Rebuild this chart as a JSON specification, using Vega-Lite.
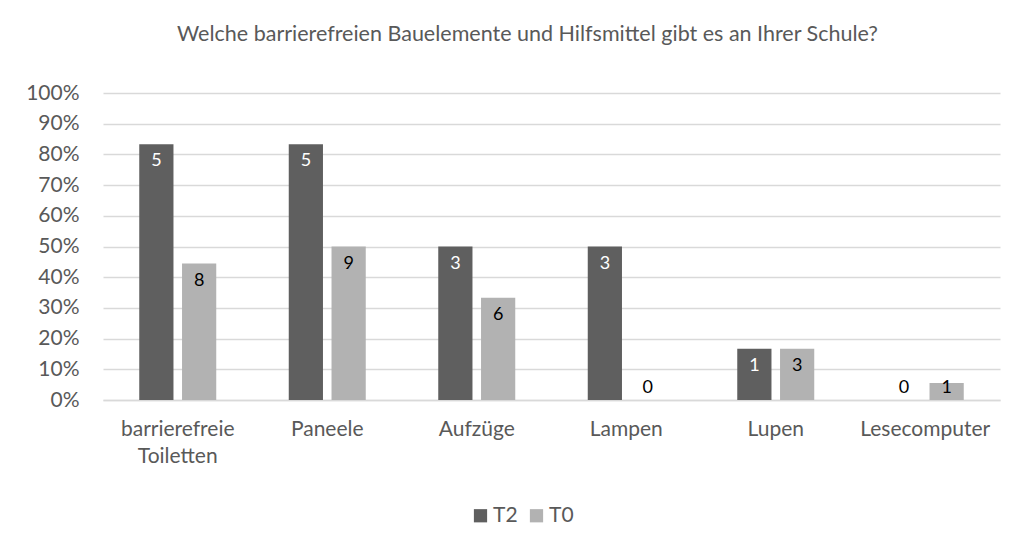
{
  "$schema": "https://vega.github.io/schema/vega-lite/v6.json",
  "autosize": {"type": "none"},
  "width": 897,
  "height": 307,
  "padding": {"left": 103, "top": 93, "right": 19, "bottom": 139},
  "background": "white",
  "config": {"view": {"stroke": null}},
  "title": {
    "text": "Welche barrierefreien Bauelemente und Hilfsmittel gibt es an Ihrer Schule?",
    "anchor": "middle",
    "frame": "group",
    "dx": -24,
    "offset": 37,
    "font": "Lato",
    "fontSize": 21.5,
    "fontWeight": "normal",
    "color": "#595959"
  },
  "data": {
    "values": [
      {"category": "barrierefreie Toiletten", "series": "T2", "share": 0.8333, "n": 5},
      {"category": "barrierefreie Toiletten", "series": "T0", "share": 0.4444, "n": 8},
      {"category": "Paneele", "series": "T2", "share": 0.8333, "n": 5},
      {"category": "Paneele", "series": "T0", "share": 0.5, "n": 9},
      {"category": "Aufzüge", "series": "T2", "share": 0.5, "n": 3},
      {"category": "Aufzüge", "series": "T0", "share": 0.3333, "n": 6},
      {"category": "Lampen", "series": "T2", "share": 0.5, "n": 3},
      {"category": "Lampen", "series": "T0", "share": 0, "n": 0},
      {"category": "Lupen", "series": "T2", "share": 0.1667, "n": 1},
      {"category": "Lupen", "series": "T0", "share": 0.1667, "n": 3},
      {"category": "Lesecomputer", "series": "T2", "share": 0, "n": 0},
      {"category": "Lesecomputer", "series": "T0", "share": 0.0556, "n": 1}
    ]
  },
  "encoding": {
    "x": {
      "field": "category",
      "type": "nominal",
      "sort": null,
      "scale": {"paddingInner": 0.485, "paddingOuter": 0.2425},
      "axis": {
        "title": null,
        "labelAngle": 0,
        "ticks": false,
        "domainColor": "#d9d9d9",
        "domainWidth": 1.5,
        "labelFont": "Lato",
        "labelFontSize": 21,
        "labelColor": "#595959",
        "labelPadding": 18,
        "labelLineHeight": 27,
        "labelExpr": "datum.label == 'barrierefreie Toiletten' ? ['barrierefreie', 'Toiletten'] : datum.label"
      }
    },
    "xOffset": {
      "field": "series",
      "type": "nominal",
      "sort": ["T2", "T0"],
      "scale": {"paddingInner": 0.2, "paddingOuter": 0}
    },
    "y": {
      "field": "share",
      "type": "quantitative",
      "scale": {"domain": [0, 1], "nice": false},
      "axis": {
        "title": null,
        "format": ".0%",
        "values": [0, 0.1, 0.2, 0.3, 0.4, 0.5, 0.6, 0.7, 0.8, 0.9, 1],
        "ticks": false,
        "domain": false,
        "gridColor": "#d9d9d9",
        "gridWidth": 1.5,
        "labelFont": "Lato",
        "labelFontSize": 21,
        "labelColor": "#595959",
        "labelPadding": 24
      }
    }
  },
  "layer": [
    {
      "mark": {"type": "bar"},
      "encoding": {
        "color": {
          "field": "series",
          "type": "nominal",
          "sort": ["T2", "T0"],
          "scale": {"domain": ["T2", "T0"], "range": ["#5f5f5f", "#b2b2b2"]},
          "legend": {
            "title": null,
            "orient": "none",
            "legendX": 367,
            "legendY": 412,
            "direction": "horizontal",
            "symbolType": "square",
            "symbolSize": 175,
            "symbolStrokeWidth": 0,
            "labelFont": "Lato",
            "labelFontSize": 21,
            "labelColor": "#595959",
            "labelOffset": 2,
            "columnPadding": 8
          }
        }
      }
    },
    {
      "transform": [{"filter": "datum.n > 0 && datum.share >= 0.1"}],
      "mark": {"type": "text", "baseline": "middle", "dy": 17, "font": "Lato", "fontSize": 18},
      "encoding": {
        "text": {"field": "n", "type": "quantitative"},
        "color": {"condition": {"test": "datum.series == 'T2'", "value": "white"}, "value": "black"}
      }
    },
    {
      "transform": [{"filter": "datum.n > 0 && datum.share < 0.1"}],
      "mark": {"type": "text", "baseline": "middle", "dy": 5, "font": "Lato", "fontSize": 18},
      "encoding": {
        "text": {"field": "n", "type": "quantitative"},
        "color": {"condition": {"test": "datum.series == 'T2'", "value": "white"}, "value": "black"}
      }
    },
    {
      "transform": [{"filter": "datum.n == 0"}],
      "mark": {"type": "text", "baseline": "middle", "dy": -12, "font": "Lato", "fontSize": 18, "color": "black"},
      "encoding": {
        "text": {"field": "n", "type": "quantitative"}
      }
    }
  ]
}
